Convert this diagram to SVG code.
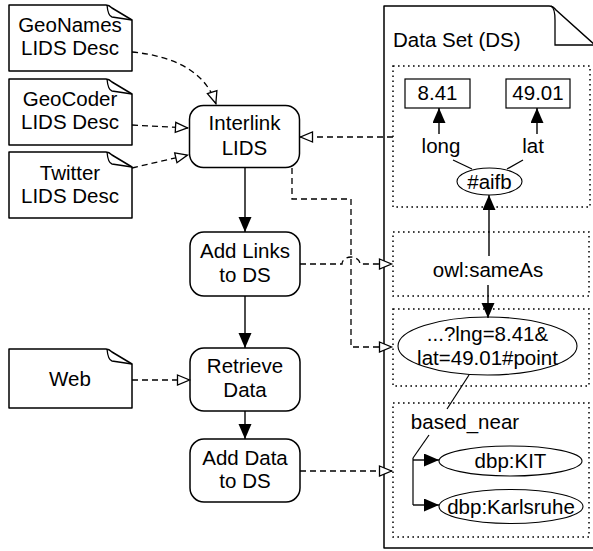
<svg xmlns="http://www.w3.org/2000/svg" width="593" height="551" viewBox="0 0 593 551">
<style>
text{font-family:"Liberation Sans",Arial,Helvetica,sans-serif;font-size:20.5px;fill:#000;text-anchor:middle}
.doc{fill:#fff;stroke:#000;stroke-width:1.5;stroke-linejoin:round}
.fold{fill:none;stroke:#000;stroke-width:1.3}
.proc{fill:#fff;stroke:#000;stroke-width:1.5}
.dot{fill:none;stroke:#000;stroke-width:1.5;stroke-dasharray:1.6,3.4}
.lit{fill:#fff;stroke:#000;stroke-width:1.2}
.ell{fill:#fff;stroke:#000;stroke-width:1.1}
.dash{fill:none;stroke:#000;stroke-width:1.3;stroke-dasharray:6,4;marker-end:url(#open)}
.solid{fill:none;stroke:#000;stroke-width:1.4;marker-end:url(#fill)}
.plain{fill:none;stroke:#000;stroke-width:1.2}
</style>
<defs>
<marker id="fill" markerWidth="16" markerHeight="14" refX="15" refY="6.5" orient="auto" markerUnits="userSpaceOnUse"><path d="M0,0 L15,6.5 L0,13 z" fill="#000"/></marker>
<marker id="open" markerWidth="16" markerHeight="14" refX="14" refY="6" orient="auto" markerUnits="userSpaceOnUse"><path d="M1.5,1 L13.5,6 L1.5,11 z" fill="#fff" stroke="#000" stroke-width="1.3" stroke-dasharray="none"/></marker>
</defs>

<g id="geonames">
<path class="doc" d="M9,5 H106 Q109,5 112,8 L132,20 V71 H9 Z"/>
<path class="fold" d="M107,5 Q108,16 112,17 L132,20"/>
<text x="70" y="32">GeoNames</text>
<text x="70" y="55">LIDS Desc</text>
</g>
<g id="geocoder">
<path class="doc" d="M9,79 H106 Q109,79 112,82 L132,94 V145 H9 Z"/>
<path class="fold" d="M107,79 Q108,90 112,91 L132,94"/>
<text x="70" y="106">GeoCoder</text>
<text x="70" y="129">LIDS Desc</text>
</g>
<g id="twitter">
<path class="doc" d="M9,152 H106 Q109,152 112,155 L132,167 V218 H9 Z"/>
<path class="fold" d="M107,152 Q108,163 112,164 L132,167"/>
<text x="70" y="180">Twitter</text>
<text x="70" y="203">LIDS Desc</text>
</g>
<g id="web">
<path class="doc" d="M9,349 H106 Q109,349 112,352 L132,364 V408 H9 Z"/>
<path class="fold" d="M107,349 Q108,360 112,361 L132,364"/>
<text x="70" y="386">Web</text>
</g>

<g id="interlink">
<rect class="proc" x="189.5" y="105.5" width="110" height="62" rx="14"/>
<text x="244.5" y="130">Interlink</text>
<text x="244.5" y="155">LIDS</text>
</g>
<g id="addlinks">
<rect class="proc" x="190" y="232" width="110" height="64" rx="14"/>
<text x="245" y="258">Add Links</text>
<text x="245" y="282">to DS</text>
</g>
<g id="retrieve">
<rect class="proc" x="190" y="348" width="110" height="63" rx="14"/>
<text x="245" y="373">Retrieve</text>
<text x="245" y="397">Data</text>
</g>
<g id="adddata">
<rect class="proc" x="190" y="439" width="110" height="63" rx="14"/>
<text x="245" y="465">Add Data</text>
<text x="245" y="488">to DS</text>
</g>

<g id="dataset">
<path class="doc" d="M384,6 H549 Q553,6 556,10 L595,45 V548 H384 Z"/>
<path class="fold" d="M551,6 Q555,8 555,20 L555,45 H595"/>
<text x="393" y="47" style="text-anchor:start">Data Set (DS)</text>
<rect class="dot" x="393" y="66" width="197" height="141"/>
<rect class="dot" x="393" y="232" width="196" height="64"/>
<rect class="dot" x="393" y="309" width="196" height="77"/>
<rect class="dot" x="393" y="403" width="196" height="134"/>
</g>

<g id="long-val">
<rect class="lit" x="405" y="79" width="65" height="29"/>
<text x="437.5" y="100">8.41</text>
</g>
<g id="lat-val">
<rect class="lit" x="506" y="79" width="64" height="29"/>
<text x="538" y="100">49.01</text>
</g>
<g id="long">
<text x="441" y="153">long</text>
</g>
<g id="lat">
<text x="533" y="153">lat</text>
</g>
<g id="aifb">
<ellipse class="ell" cx="489.5" cy="181.5" rx="32.5" ry="13.5"/>
<text x="489.5" y="189">#aifb</text>
</g>
<g id="sameas">
<text x="488" y="277">owl:sameAs</text>
</g>
<g id="point">
<ellipse class="ell" cx="487.5" cy="346" rx="89.5" ry="29"/>
<text x="487.5" y="341">...?lng=8.41&amp;</text>
<text x="487.5" y="365">lat=49.01#point</text>
</g>
<g id="basednear">
<text x="465" y="429">based_near</text>
</g>
<g id="kit">
<ellipse class="ell" cx="510.5" cy="461" rx="71.5" ry="15"/>
<text x="510.5" y="468">dbp:KIT</text>
</g>
<g id="karlsruhe">
<ellipse class="ell" cx="511" cy="506.5" rx="72" ry="17"/>
<text x="511" y="514">dbp:Karlsruhe</text>
</g>

<g id="connectors">
<path class="dash" d="M132,52 C172,56 205,70 216,104"/>
<path class="dash" d="M132,125 L188,128"/>
<path class="dash" d="M132,168 L188,155"/>
<path class="dash" d="M393,137 L300,137"/>
<path class="dash" d="M292,168 V199 H351 V347 H392"/>
<path class="dash" d="M300,264 H342 A9,7 0 0 1 360,264 H392"/>
<path class="dash" d="M132,380 L190,380"/>
<path class="dash" d="M300,471 L392,471"/>
<path class="solid" d="M245,168 V232"/>
<path class="solid" d="M245,296 V348"/>
<path class="solid" d="M245,411 V439"/>
<path class="solid" d="M439,134 V108"/>
<path class="solid" d="M537,134 V108"/>
<path class="plain" d="M453,160 L472,169"/>
<path class="plain" d="M523,160 L507,169"/>
<path class="solid" d="M489,256 V195"/>
<path class="solid" d="M488,285 V318"/>
<path class="plain" d="M469,375 L447,409"/>
<path class="plain" d="M429,435 L413,458"/>
<path class="plain" d="M413,458 V505"/>
<path class="solid" d="M413,460 H439"/>
<path class="solid" d="M413,505 H439"/>
</g>
</svg>
